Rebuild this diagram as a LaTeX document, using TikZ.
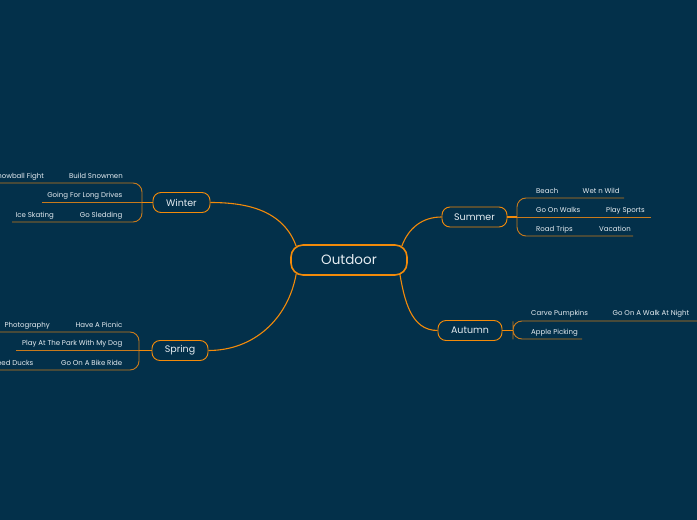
\documentclass[tikz,border=0pt]{standalone}
\usepackage{fontspec}
\setmainfont{Poppins}
\usepackage{xcolor}
\definecolor{bgc}{HTML}{03304A}
\definecolor{orng}{HTML}{F28A0A}
\definecolor{leafln}{HTML}{C97A1C}
\definecolor{txt}{HTML}{E6EDF2}

\begin{document}
\begin{tikzpicture}[
  x=1pt, y=1pt,
  root/.style={draw=orng, line width=1.6pt, fill=bgc, rounded corners=12pt, minimum width=116pt, minimum height=30pt, text=txt, font=\fontsize{13.5}{15}\selectfont},
  topic/.style={draw=orng, line width=0.9pt, fill=bgc, rounded corners=8pt, minimum height=20pt, text=txt, font=\fontsize{9.5}{11}\selectfont},
  leaf/.style={text=txt, inner sep=0pt, font=\fontsize{7}{8}\selectfont},
  link/.style={draw=orng, line width=1.1pt},
  under/.style={draw=leafln, line width=0.9pt, rounded corners=9pt},
]

\fill[bgc] (0,0) rectangle (697,520);
\useasboundingbox (0,0) rectangle (697,520);

% central topic and main branches
\node[root] (Outdoor) at (349,260) {Outdoor};
\node[topic, minimum width=57pt] (Winter) at (181.5,317.5) {Winter};
\node[topic, minimum width=56pt] (Spring) at (180,169.5) {Spring};
\node[topic, minimum width=65pt] (Summer) at (474.5,303) {Summer};
\node[topic, minimum width=64pt] (Autumn) at (470,189.5) {Autumn};

\draw[link] ([xshift=6pt, yshift=-2pt]Outdoor.north west) to[out=110, in=0] (Winter.east);
\draw[link] ([xshift=-6pt, yshift=-2pt]Outdoor.north east) to[out=70, in=180] (Summer.west);
\draw[link] ([xshift=6pt, yshift=2pt]Outdoor.south west) to[out=-100, in=0] (Spring.east);
\draw[link] ([xshift=-8pt, yshift=2pt]Outdoor.south east) to[out=-80, in=180] (Autumn.west);

% Winter
\coordinate (wbr) at (142,317.5);
\coordinate (w1) at (0,337);
\coordinate (w2) at (42,317.5);
\coordinate (w3) at (12,298);
\draw[under] (w1) -| (wbr) |- (w3);
\draw[under] (w2) -- (wbr);
\draw[link] (wbr) -- (Winter.west);
\node[leaf, anchor=base east] (snowmen) at (123,341.5) {Build Snowmen};
\node[leaf, anchor=base east] (snowball) at (44,341.5) {Snowball Fight};
\node[leaf, anchor=base east] (drives) at (122.5,322) {Going For Long Drives};
\node[leaf, anchor=base east] (sledding) at (122.5,302.5) {Go Sledding};
\node[leaf, anchor=base east] (skating) at (54,302.5) {Ice Skating};

% Spring
\coordinate (pbr) at (139,169.5);
\coordinate (p1) at (0,188);
\coordinate (p2) at (16,169.5);
\coordinate (p3) at (0,150);
\draw[under] (p1) -| (pbr) |- (p3);
\draw[under] (p2) -- (pbr);
\draw[link] (pbr) -- (Spring.west);
\node[leaf, anchor=base east] (picnic) at (122.5,192.5) {Have A Picnic};
\node[leaf, anchor=base east] (photo) at (50,192.5) {Photography};
\node[leaf, anchor=base east] (park) at (122.5,174) {Play At The Park With My Dog};
\node[leaf, anchor=base east] (bike) at (122.5,154.5) {Go On A Bike Ride};
\node[leaf, anchor=base east] (ducks) at (33.5,154.5) {Feed Ducks};

% Summer
\coordinate (sbr) at (517,303);
\coordinate (s1) at (624,322);
\coordinate (s2) at (651,303);
\coordinate (s3) at (633,284);
\draw[under] (s1) -| (sbr) |- (s3);
\draw[under] (s2) -- (sbr);
\draw[link] (Summer.east) -- (sbr);
\node[leaf, anchor=base west] (beach) at (536,326.5) {Beach};
\node[leaf, anchor=base west] (wetnwild) at (582.5,326.5) {Wet n Wild};
\node[leaf, anchor=base west] (walks) at (536,307.5) {Go On Walks};
\node[leaf, anchor=base west] (sports) at (606,307.5) {Play Sports};
\node[leaf, anchor=base west] (trips) at (536,288.5) {Road Trips};
\node[leaf, anchor=base west] (vacation) at (599,288.5) {Vacation};

% Autumn
\coordinate (abr) at (513,189.5);
\coordinate (a1) at (697,199);
\coordinate (a2) at (582,181);
\draw[under] (a1) -| (abr) |- (a2);
\draw[link] (Autumn.east) -- (abr);
\node[leaf, anchor=base west] (pumpkins) at (531,204.5) {Carve Pumpkins};
\node[leaf, anchor=base west] (nightwalk) at (612.5,204.5) {Go On A Walk At Night};
\node[leaf, anchor=base west] (apples) at (531,185.5) {Apple Picking};

\end{tikzpicture}
\end{document}
